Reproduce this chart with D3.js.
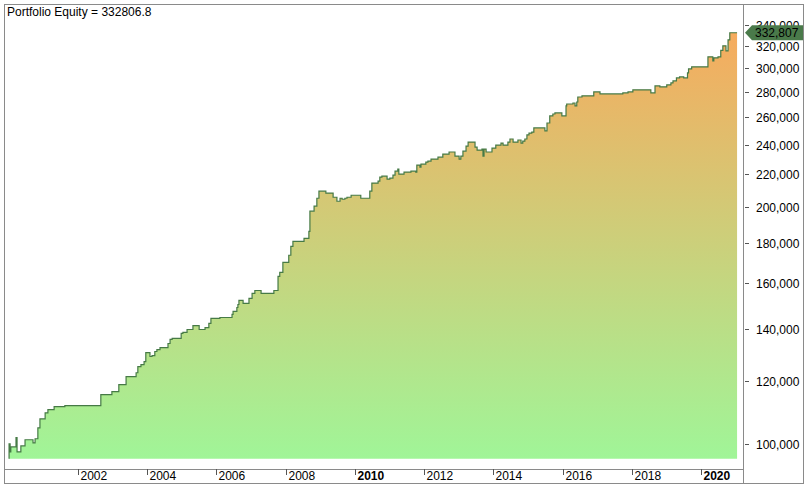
<!DOCTYPE html>
<html><head><meta charset="utf-8">
<script src="https://cdn.jsdelivr.net/npm/d3@7"></script>
<style>body{margin:0;background:#fff}svg{display:block}text{font-family:"Liberation Sans",Arial,sans-serif;font-size:12px}</style>
</head><body>
<svg id="c" width="812" height="492"></svg>
<script>
// decimal-year dates of each equity step, and equity value after that step
const stepDates = [2000.01,2000.04,2000.06,2000.21,2000.24,2000.35,2000.47,2000.70,2000.76,2000.84,2000.90,2001.05,2001.13,2001.31,2001.62,2002.66,2002.98,2003.18,2003.39,2003.68,2003.73,2003.82,2003.91,2003.96,2004.08,2004.14,2004.22,2004.28,2004.37,2004.60,2004.66,2004.72,2004.98,2005.03,2005.15,2005.32,2005.50,2005.67,2005.78,2005.84,2006.10,2006.45,2006.48,2006.59,2006.62,2006.65,2006.77,2006.94,2007.03,2007.11,2007.29,2007.66,2007.78,2007.83,2007.92,2008.09,2008.15,2008.21,2008.53,2008.67,2008.70,2008.82,2008.90,2008.96,2009.16,2009.37,2009.48,2009.57,2009.63,2009.71,2009.77,2009.89,2010.17,2010.43,2010.49,2010.67,2010.72,2010.78,2010.93,2011.01,2011.10,2011.16,2011.24,2011.27,2011.42,2011.62,2011.76,2011.79,2011.88,2011.91,2012.05,2012.11,2012.20,2012.40,2012.54,2012.72,2012.89,2013.01,2013.06,2013.12,2013.21,2013.27,2013.47,2013.53,2013.67,2013.70,2013.73,2013.79,2013.96,2014.07,2014.22,2014.28,2014.42,2014.48,2014.57,2014.71,2014.80,2014.85,2014.91,2014.97,2015.03,2015.11,2015.17,2015.49,2015.55,2015.63,2015.72,2015.78,2015.98,2016.10,2016.12,2016.30,2016.36,2016.41,2016.44,2016.56,2016.90,2017.08,2017.74,2017.89,2018.03,2018.55,2018.67,2018.81,2019.01,2019.13,2019.19,2019.29,2019.38,2019.50,2019.61,2019.64,2019.73,2020.20,2020.34,2020.37,2020.49,2020.57,2020.63,2020.72,2020.78,2020.83,2021.04];
const equity = [100000,97700,99100,101800,97700,99400,101200,100300,101500,104800,107600,109500,110500,111500,111800,115500,116500,118900,121700,123100,125300,126100,127200,130600,129100,129400,131000,131700,132500,134100,135700,136100,138100,138500,139700,141300,139700,140500,142200,144300,144700,146000,147300,149000,150300,152100,150800,153000,155300,156600,155300,156600,163200,165100,170000,173600,178200,180800,182400,186200,197500,200400,205100,209400,208200,205700,203300,205100,204500,205100,205700,206900,205100,209400,214400,215600,218200,218800,216900,217500,219400,222000,223300,220100,221400,222000,221400,226000,224600,226600,228000,228600,230000,231300,233400,234800,232000,230000,232000,235400,238900,241700,238200,236100,236800,232000,236800,234800,237500,239600,241000,239600,241700,243900,241700,243200,241000,242400,243900,246800,248200,248900,251900,249700,255600,260900,262400,263200,260900,268700,270200,271000,268700,271800,275800,276700,279900,278300,279100,279900,281600,279100,284900,284100,285700,287400,289100,291600,292500,291600,296000,299400,301200,310200,306600,309300,310200,316000,320300,315700,326000,332807,332807];
const yTicks = [100000,120000,140000,160000,180000,200000,220000,240000,260000,280000,300000,320000,340000];
const xTickYears = [2002,2004,2006,2008,2010,2012,2014,2016,2018,2020];
const boldYears = [2010,2020];
const titleText = "Portfolio Equity = 332806.8";
const lastValue = 332806.8;
const baseValue = 95700;

function toDate(t){const y=Math.floor(t);const s=new Date(y,0,1),e=new Date(y+1,0,1);return new Date(+s+(t-y)*(e-s));}
const data = stepDates.map((t,i)=>({d:toDate(t),v:equity[i]}));

const svg = d3.select("#c");
const L=4, R=743, T=4, B=469;
const x = d3.scaleTime().domain([new Date(2002,0,1), new Date(2020,0,1)]).range([78,701]);
const y = d3.scaleLog().domain([92900,362000]).range([B,T]);

const defs = svg.append("defs");
const g = defs.append("linearGradient").attr("id","gr").attr("gradientUnits","userSpaceOnUse")
  .attr("x1",0).attr("x2",0).attr("y1",y(baseValue)).attr("y2",y(lastValue));
g.append("stop").attr("offset",0).attr("stop-color","#a0f598");
g.append("stop").attr("offset",1).attr("stop-color","#f6ab5e");

svg.append("clipPath").attr("id","cp").append("rect").attr("x",L).attr("y",T).attr("width",R-L).attr("height",B-T);
const plot = svg.append("g").attr("clip-path","url(#cp)");

plot.append("path").datum(data)
  .attr("d", d3.area().curve(d3.curveStepAfter).x(d=>x(d.d)).y0(y(baseValue)).y1(d=>y(d.v)))
  .attr("fill","url(#gr)");
const lineData = [{d:data[0].d,v:baseValue}].concat(data);
plot.append("path").datum(lineData)
  .attr("d", d3.line().curve(d3.curveStepAfter).x(d=>x(d.d)).y(d=>y(d.v)))
  .attr("fill","none").attr("stroke","#467a46").attr("stroke-width",1.2);

// frame
svg.append("rect").attr("x",4.5).attr("y",4.5).attr("width",799).attr("height",479).attr("fill","none").attr("stroke","#8a8a8a");
svg.append("line").attr("x1",R+0.5).attr("x2",R+0.5).attr("y1",T).attr("y2",484).attr("stroke","#8a8a8a");
svg.append("line").attr("x1",L).attr("x2",R).attr("y1",B+0.5).attr("y2",B+0.5).attr("stroke","#8a8a8a");

// y axis
const ya = svg.append("g");
yTicks.forEach(v=>{
  const yy=Math.round(y(v))+0.5;
  ya.append("line").attr("x1",745).attr("x2",749).attr("y1",yy).attr("y2",yy).attr("stroke","#555");
  ya.append("text").attr("x",756).attr("y",yy+4.5).attr("fill","#000").text(d3.format(",")(v));
});

// x axis
xTickYears.forEach(yr=>{
  const xx=Math.round(x(new Date(yr,0,1)))+0.5;
  svg.append("line").attr("x1",xx).attr("x2",xx).attr("y1",B).attr("y2",475).attr("stroke","#555");
  svg.append("text").attr("x",xx+2).attr("y",480).attr("fill","#000")
    .attr("font-weight",boldYears.includes(yr)?"bold":"normal").text(yr);
});

// title
svg.append("text").attr("x",7).attr("y",16).attr("fill","#000").text(titleText);

// value tag
const yv = y(lastValue);
svg.append("path").attr("d",`M745,${yv} L752,${yv-7.5} L803,${yv-7.5} L803,${yv+7.5} L752,${yv+7.5} Z`).attr("fill","#4a7a4a");
svg.append("text").attr("x",755).attr("y",yv+4.5).attr("fill","#000").text(d3.format(",.0f")(lastValue));
</script>
</body></html>
